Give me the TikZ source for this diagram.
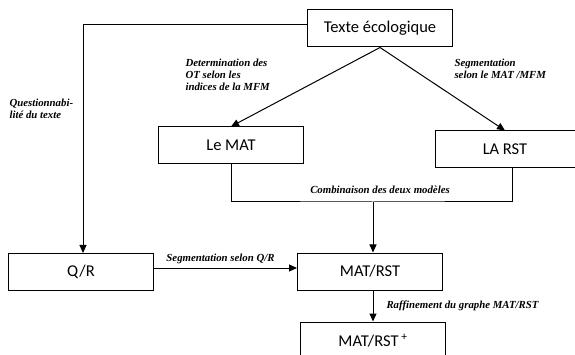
\documentclass[tikz,border=0pt]{standalone}
\usepackage{fontspec}
\setmainfont{Liberation Serif}
\newfontfamily\boxfamily{Carlito}
\usetikzlibrary{arrows.meta}

\tikzset{
    box/.style={draw, minimum width=145pt, minimum height=37pt, inner sep=0pt,
        font=\boxfamily\fontsize{16.5}{19}\selectfont},
    lbl/.style={font=\bfseries\itshape\fontsize{10.8}{12}\selectfont,
        align=left, inner sep=0pt},
    >={Triangle[width=7pt,length=8pt]}
}

\begin{document}
\begin{tikzpicture}[x=1pt, y=-1pt, line width=1pt]
        \clip (0,0) rectangle (575,355);

        % boxes
        \node[box] (texte) at (380, 28.5) {Texte écologique};
        \node[box] (lemat) at (231, 145.5) {Le MAT};
        \node[box, minimum width=140pt] (larst) at (505, 149.5) {LA RST};
        \node[box] (qr) at (81, 272) {Q/R};
        \node[box] (matrst) at (370, 271.5) {MAT/RST};
        \node[box] (matrstp) at (373, 340.5) {MAT/RST\,\textsuperscript{+}};

        % junction points
        \coordinate (corner) at (83, 25);
        \coordinate (join) at (373, 202);

        % edge Texte -> Q/R
        \draw[->] (texte.west |- corner) -- (corner) -- (qr.north -| corner);
        \node[lbl, anchor=north west] (quest) at (9, 99)
            {Questionnabi-\\lité du texte};

        % edges Texte -> MAT, RST
        \draw[->] (texte.south) -- (lemat.north);
        \node[lbl, anchor=north west] (determ) at (185, 59)
            {Determination des\\OT selon les\\indices de la MFM};
        \draw[->] (texte.south) -- (larst.north);
        \node[lbl, anchor=north west] (segmat) at (454, 59)
            {Segmentation\\selon le MAT /MFM};

        % combination
        \draw (lemat.south) |- (join) -| ([xshift=7pt]larst.south);
        \draw[->] (join) -- (matrst.north -| join);
        \node[lbl] (combi) at (380, 190) {Combinaison des deux modèles};

        % edge Q/R -> MAT/RST
        \draw[->] (qr.east |- 0, 268) -- (matrst.west |- 0, 268)
            node[lbl, midway, above=4pt, xshift=-5pt] {Segmentation selon Q/R};

        % edge refinement
        \draw[->] (matrst.south -| join) -- (matrstp.north -| join)
            node[lbl, midway, right=13pt] {Raffinement du graphe MAT/RST};
    \end{tikzpicture}
\end{document}
